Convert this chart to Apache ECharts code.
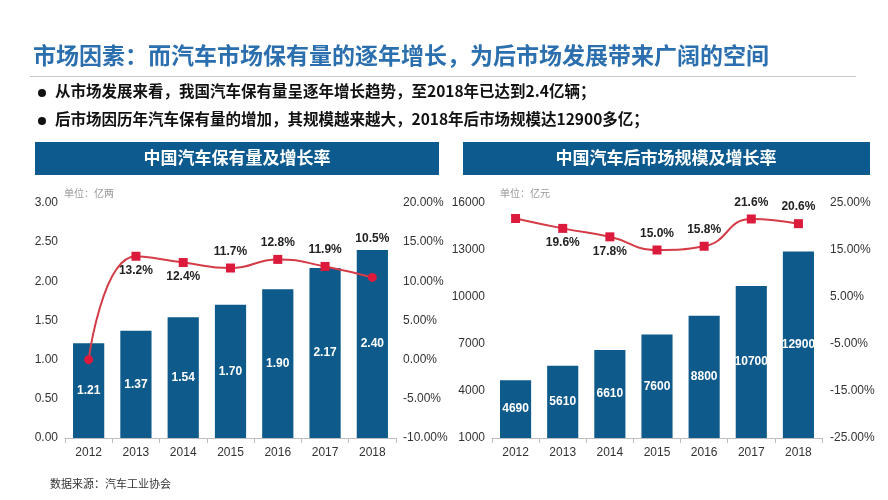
<!DOCTYPE html>
<html><head><meta charset="utf-8">
<script src="https://cdn.jsdelivr.net/npm/echarts@6/dist/echarts.min.js"></script>
<style>html,body{margin:0;padding:0;background:#fff}#c{width:888px;height:500px}</style>
</head><body><div id="c"></div>
<script>
const years = ['2012','2013','2014','2015','2016','2017','2018'];
const ownership = [1.21, 1.37, 1.54, 1.70, 1.90, 2.17, 2.40];
const ownershipRate = [0.0, 13.2, 12.4, 11.7, 12.8, 11.9, 10.5];
const afterMarket = [4690, 5610, 6610, 7600, 8800, 10700, 12900];
const afterMarketRate = [21.7, 19.6, 17.8, 15.0, 15.8, 21.6, 20.6];
const leftRateLabelPos = ['none','bottom','bottom','top','top','top','top'];
const rightRateLabelPos = ['none','bottom','bottom','top','top','top','top'];

const CJK = '"Noto Sans CJK SC", sans-serif';
const NUM = '"Liberation Sans", Arial, sans-serif';
const barColor = '#0d5a8b';
const lineColor = '#d43c48';
const markColor = '#dc1a3c';

function rateData(vals, pos, symbols, extra) {
  return vals.map((v, i) => {
    const d = { value: v, symbol: symbols[i] };
    if (pos[i] === 'none') d.label = { show: false };
    else d.label = { show: true, position: pos[i], distance: (extra && extra[i]) || 6 };
    return d;
  });
}

const chart = echarts.init(document.getElementById('c'));
const axisLabelStyle = { color: '#333', fontSize: 12, fontFamily: NUM };
const xAxisCommon = { type: 'category', data: years, axisLine: { onZero: false, lineStyle: { color: '#bdbdbd' } }, axisTick: { show: true, lineStyle: { color: '#bdbdbd' } }, axisLabel: Object.assign({ margin: 9 }, axisLabelStyle) };
chart.setOption({
  animation: false,
  grid: [
    { left: 65, right: 492, top: 203, bottom: 62 },
    { left: 492, right: 66, top: 203, bottom: 62 }
  ],
  xAxis: [
    Object.assign({ gridIndex: 0 }, xAxisCommon),
    Object.assign({ gridIndex: 1 }, xAxisCommon)
  ],
  yAxis: [
    { type: 'value', gridIndex: 0, min: 0, max: 3, interval: 0.5, splitLine: { show: false }, axisLine: { show: false }, axisTick: { show: false }, axisLabel: Object.assign({ margin: 7, formatter: v => v.toFixed(2) }, axisLabelStyle) },
    { type: 'value', gridIndex: 0, position: 'right', min: -10, max: 20, interval: 5, splitLine: { show: false }, axisLine: { show: false }, axisTick: { show: false }, axisLabel: Object.assign({ margin: 7, formatter: v => v.toFixed(2) + '%' }, axisLabelStyle) },
    { type: 'value', gridIndex: 1, min: 1000, max: 16000, interval: 3000, splitLine: { show: false }, axisLine: { show: false }, axisTick: { show: false }, axisLabel: Object.assign({ margin: 7, formatter: v => String(v) }, axisLabelStyle) },
    { type: 'value', gridIndex: 1, position: 'right', min: -25, max: 25, interval: 10, splitLine: { show: false }, axisLine: { show: false }, axisTick: { show: false }, axisLabel: Object.assign({ margin: 8, formatter: v => v.toFixed(2) + '%' }, axisLabelStyle) }
  ],
  series: [
    { type: 'bar', xAxisIndex: 0, yAxisIndex: 0, data: ownership, barWidth: '66%', itemStyle: { color: barColor },
      label: { show: true, position: 'inside', color: '#fff', fontWeight: 'bold', fontSize: 12, fontFamily: NUM, formatter: p => p.value.toFixed(2) } },
    { type: 'line', xAxisIndex: 0, yAxisIndex: 1, smooth: 0.5, symbolSize: 9,
      data: rateData(ownershipRate, leftRateLabelPos, ['circle','rect','rect','rect','rect','rect','circle'], [0,4,4,6,6,6,28]),
      lineStyle: { color: lineColor, width: 2 }, itemStyle: { color: markColor },
      label: { color: '#222', fontWeight: 'bold', fontSize: 12, fontFamily: NUM, formatter: p => p.value.toFixed(1) + '%' } },
    { type: 'bar', xAxisIndex: 1, yAxisIndex: 2, data: afterMarket, barWidth: '66%', itemStyle: { color: barColor },
      label: { show: true, position: 'inside', color: '#fff', fontWeight: 'bold', fontSize: 12, fontFamily: NUM } },
    { type: 'line', xAxisIndex: 1, yAxisIndex: 3, smooth: 0.5, symbolSize: 9,
      data: rateData(afterMarketRate, rightRateLabelPos, ['rect','rect','rect','rect','rect','rect','rect'], [0,4,4,6,6,6,6]),
      lineStyle: { color: lineColor, width: 2 }, itemStyle: { color: markColor },
      label: { color: '#222', fontWeight: 'bold', fontSize: 12, fontFamily: NUM, formatter: p => p.value.toFixed(1) + '%' } }
  ],
  graphic: [
    { type: 'text', left: 33, top: 44, style: { text: '市场因素：而汽车市场保有量的逐年增长，为后市场发展带来广阔的空间', fill: '#2b6fae', font: 'bold 23px ' + CJK } },
    { type: 'rect', shape: { x: 30, y: 76, width: 826, height: 1 }, style: { fill: '#c8c8c8' } },
    { type: 'circle', shape: { cx: 42, cy: 93, r: 4 }, style: { fill: '#111' } },
    { type: 'text', left: 55, top: 83, style: { text: '从市场发展来看，我国汽车保有量呈逐年增长趋势，至2018年已达到2.4亿辆；', fill: '#111', font: 'bold 15.5px ' + CJK } },
    { type: 'circle', shape: { cx: 42, cy: 121, r: 4 }, style: { fill: '#111' } },
    { type: 'text', left: 55, top: 111, style: { text: '后市场因历年汽车保有量的增加，其规模越来越大，2018年后市场规模达12900多亿；', fill: '#111', font: 'bold 15.5px ' + CJK } },
    { type: 'rect', shape: { x: 35, y: 142, width: 404, height: 33 }, style: { fill: '#0d5b8e' } },
    { type: 'text', x: 237, y: 158, style: { text: '中国汽车保有量及增长率', fill: '#fff', font: 'bold 17px ' + CJK, textAlign: 'center', textVerticalAlign: 'middle' } },
    { type: 'rect', shape: { x: 463, y: 142, width: 407, height: 33 }, style: { fill: '#0d5b8e' } },
    { type: 'text', x: 666, y: 158, style: { text: '中国汽车后市场规模及增长率', fill: '#fff', font: 'bold 17px ' + CJK, textAlign: 'center', textVerticalAlign: 'middle' } },
    { type: 'text', left: 64, top: 188, style: { text: '单位：亿两', fill: '#999', font: '10px ' + CJK } },
    { type: 'text', left: 500, top: 188, style: { text: '单位：亿元', fill: '#999', font: '10px ' + CJK } },
    { type: 'text', left: 50, top: 478, style: { text: '数据来源：汽车工业协会', fill: '#333', font: '11px ' + CJK } }
  ]
});
</script>
</body></html>
